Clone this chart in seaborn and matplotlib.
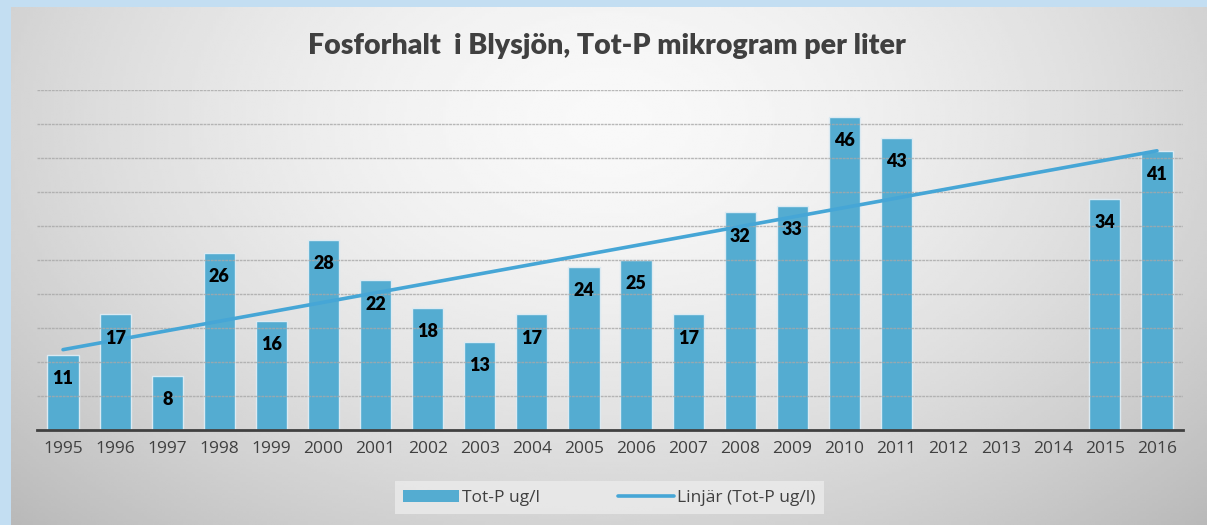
import numpy as np
import pandas as pd
import matplotlib
matplotlib.use("Agg")
import matplotlib.pyplot as plt
import seaborn as sns
from matplotlib.patches import Patch
from matplotlib.lines import Line2D

years = [str(y) for y in range(1995, 2017)]
totp = [11, 17, 8, 26, 16, 28, 22, 18, 13, 17, 24, 25, 17, 32, 33, 46, 43,
        np.nan, np.nan, np.nan, 34, 41]

title = "Fosforhalt  i Blysjön, Tot-P mikrogram per liter"
bar_label = "Tot-P ug/l"
trend_label = "Linjär (Tot-P ug/l)"

bar_color = "#54acd1"
line_color = "#46a6d6"
text_color = "#404040"

sns.set_theme(style="white")
plt.rcParams["font.family"] = ["Lato", "DejaVu Sans"]

df = pd.DataFrame({"year": years, "val": totp})
df["idx"] = np.arange(len(df))

fig = plt.figure(figsize=(12.07, 5.25), dpi=100)
fig.patch.set_facecolor("#c3def2")

# gray panel with a soft radial gradient
bg = fig.add_axes([11 / 1207, 0, 1 - 11 / 1207, 1 - 7 / 525])
gx, gy = np.meshgrid(np.linspace(0, 1, 400), np.linspace(0, 1, 200))
r = np.sqrt(((gx - 0.5) / 0.62) ** 2 + ((gy - 0.22) / 0.95) ** 2)
shade = 0.975 - 0.2 * np.clip(r, 0, 1.2) ** 1.6
bg.imshow(shade, cmap="gray", vmin=0, vmax=1, aspect="auto",
          extent=[0, 1, 1, 0], interpolation="bilinear")
bg.set_axis_off()

ax = fig.add_axes([37 / 1207, 95 / 525, 1146 / 1207, 340 / 525])
ax.patch.set_alpha(0)

sns.barplot(data=df, x="year", y="val", order=years, color=bar_color,
            saturation=1, width=0.6, edgecolor="#dceaf2", linewidth=1,
            ax=ax, zorder=2)

valid = df.dropna()
sns.regplot(data=valid, x="idx", y="val", scatter=False, ci=None, ax=ax,
            line_kws=dict(color=line_color, lw=2.6, zorder=4))

for _, row in valid.iterrows():
    ax.annotate(f"{int(row.val)}", (row.idx, row.val), xytext=(0, -17),
                textcoords="offset points", ha="center", va="center",
                fontsize=13, fontweight="heavy", color="black", zorder=5)

ax.set_xlim(-0.5, len(years) - 0.5)
ax.set_ylim(0, 50)
ax.set_yticks(np.arange(5, 51, 5))
ax.set_yticklabels([])
ax.set_xticks(range(len(years)))
ax.set_xticklabels(years, fontsize=12.5, color=text_color,
                   family=["Open Sans", "DejaVu Sans"])
ax.tick_params(axis="x", length=0, pad=8)
ax.tick_params(axis="y", length=0)
ax.set_xlabel("")
ax.set_ylabel("")
ax.set_axisbelow(False)
ax.yaxis.grid(True, color="#a8a8a8", lw=1, ls=(0, (2, 0.6)), alpha=0.8, zorder=3)
for s in ["top", "right", "left"]:
    ax.spines[s].set_visible(False)
ax.spines["bottom"].set_color(text_color)
ax.spines["bottom"].set_linewidth(2)
ax.spines["bottom"].set_zorder(6)

fig.text(0.503, 0.913, title, ha="center", va="center", fontsize=20.5,
         fontweight="heavy", color=text_color)

handles = [Patch(facecolor=bar_color, edgecolor="none"),
           Line2D([0], [0], color=line_color, lw=2.6)]
leg = fig.legend(handles, [bar_label, trend_label], loc="center",
                 bbox_to_anchor=(0.505, 0.052), ncol=2, frameon=True,
                 fontsize=12.5, handlelength=3.2, handleheight=0.7,
                 handletextpad=0.2, columnspacing=4.5, borderpad=0.5,
                 borderaxespad=0, fancybox=False)
leg.get_frame().set_facecolor("#e9e9e9")
leg.get_frame().set_edgecolor("none")
leg.get_frame().set_alpha(0.9)
for t in leg.get_texts():
    t.set_color(text_color)
    t.set_family(["Open Sans", "DejaVu Sans"])

fig.savefig("out.png", dpi=100, facecolor=fig.get_facecolor())
